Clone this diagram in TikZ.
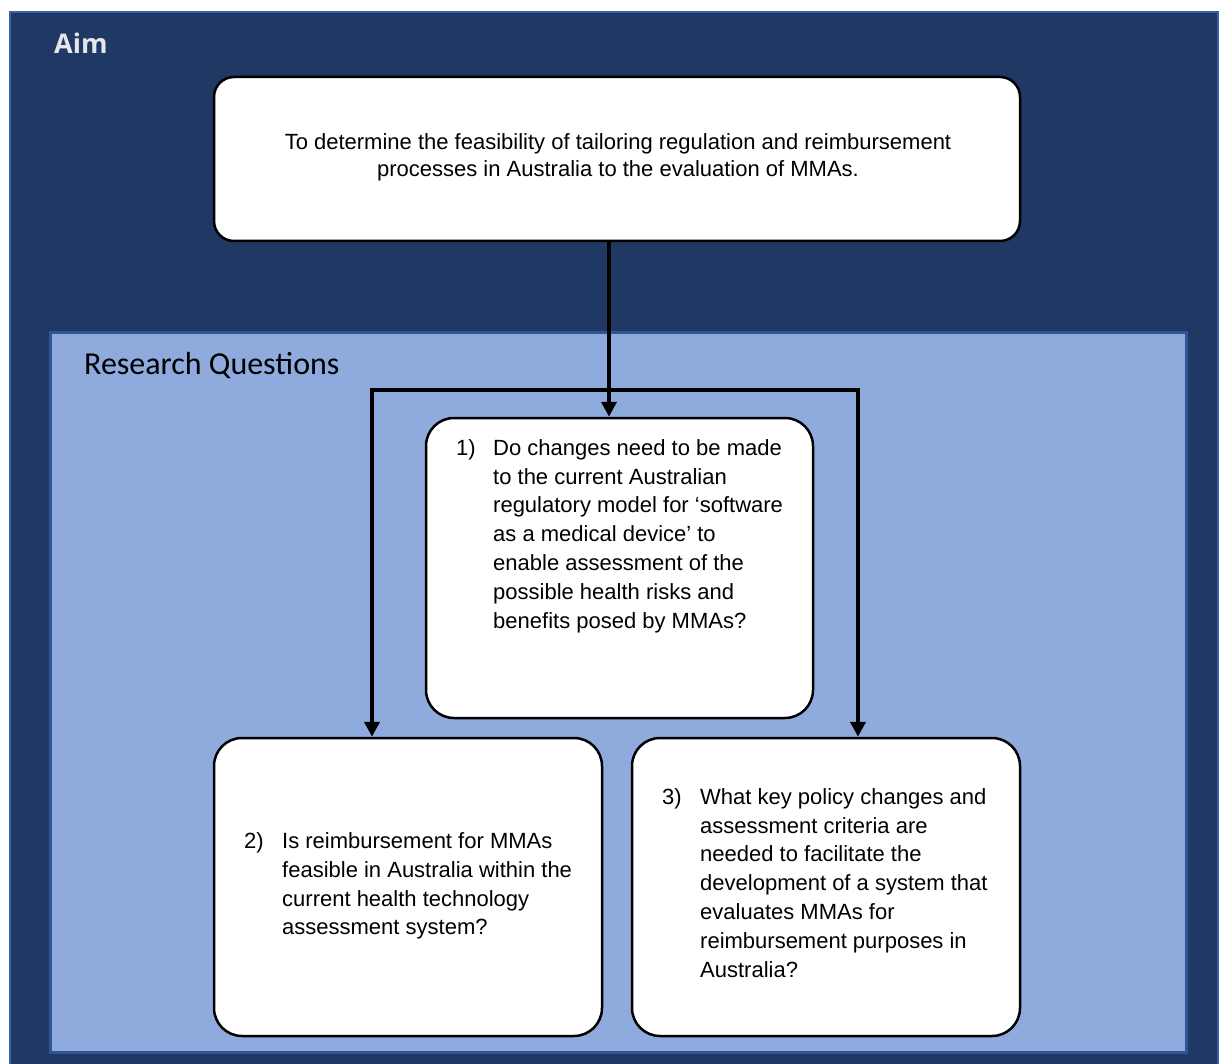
\documentclass[tikz,border=0pt]{standalone}
\usepackage{fontspec}
\setmainfont{Liberation Sans}
\newfontfamily\aimfont{Open Sans}
\newfontfamily\rqfont{Carlito}
\usetikzlibrary{arrows.meta}
\definecolor{navy}{HTML}{203864}
\definecolor{navyedge}{HTML}{3A62A8}
\definecolor{lightfill}{HTML}{8FAADC}
\definecolor{lightedge}{HTML}{2F5597}
\definecolor{aimtext}{HTML}{E6E6E6}
\tikzset{
  qbox/.style={draw=black, line width=2.5pt, fill=white, rounded corners=28pt, inner sep=0pt},
  qtext/.style={inner sep=0pt, anchor=west, font=\fontsize{22}{28.8}\selectfont},
  conn/.style={line width=4pt, line join=miter, -{Triangle[length=15pt,width=15pt]}},
  conn2/.style={line width=4pt, line join=miter, {Triangle[length=15pt,width=15pt]}-{Triangle[length=15pt,width=15pt]}}
}
\begin{document}
\begin{tikzpicture}[x=1pt,y=-1pt]
\useasboundingbox (0,0) rectangle (1226,1064);
\fill[white] (0,0) rectangle (1226,1064);
% outer panel
\draw[fill=navy, draw=navyedge, line width=2pt] (10,12) rectangle (1218,1075);
% inner panel
\draw[fill=lightfill, draw=lightedge, line width=3pt] (50,333) rectangle (1186,1052);
% labels
\node[anchor=base west, inner sep=0pt, text=aimtext, font=\aimfont\bfseries\fontsize{27}{30}\selectfont] (aimlabel) at (54,54) {Aim};
\node[anchor=base west, inner sep=0pt, text=black, font=\rqfont\fontsize{32}{36}\selectfont] (rqlabel) at (84,375) {Research Questions};
% boxes
\node[qbox, rounded corners=20pt, minimum width=806pt, minimum height=164pt] (aim) at (617,159) {};
\node[qbox, minimum width=387pt, minimum height=300pt] (box1) at (619.5,568) {};
\node[qbox, minimum width=388pt, minimum height=298pt] (box2) at (408,887) {};
\node[qbox, minimum width=388pt, minimum height=298pt] (box3) at (826,887) {};
% texts
\node[inner sep=0pt, align=center, font=\fontsize{22}{27}\selectfont] (aimtxt) at (618,157) {To determine the feasibility of tailoring regulation and reimbursement\\processes in Australia to the evaluation of MMAs.};
\node[qtext] (t1) at (456,536) {\begin{tabular}{@{}p{37pt}@{}l@{}}
1) & Do changes need to be made\\
 & to the current Australian\\
 & regulatory model for ‘software\\
 & as a medical device’ to\\
 & enable assessment of the\\
 & possible health risks and\\
 & benefits posed by MMAs?
\end{tabular}};
\node[qtext] (t2) at (244,886) {\begin{tabular}{@{}p{38pt}@{}l@{}}
2) & Is reimbursement for MMAs\\
 & feasible in Australia within the\\
 & current health technology\\
 & assessment system?
\end{tabular}};
\node[qtext] (t3) at (662,885) {\begin{tabular}{@{}p{38pt}@{}l@{}}
3) & What key policy changes and\\
 & assessment criteria are\\
 & needed to facilitate the\\
 & development of a system that\\
 & evaluates MMAs for\\
 & reimbursement purposes in\\
 & Australia?
\end{tabular}};
% connectors
\coordinate (j) at (609,390);
\coordinate (l) at (372,390);
\coordinate (r) at (858,390);
\draw[conn] (aim.south -| j) -- (box1.north -| j);
\draw[conn2] (box2.north -| l) -- (l) -- (r) -- (box3.north -| r);
\end{tikzpicture}
\end{document}
